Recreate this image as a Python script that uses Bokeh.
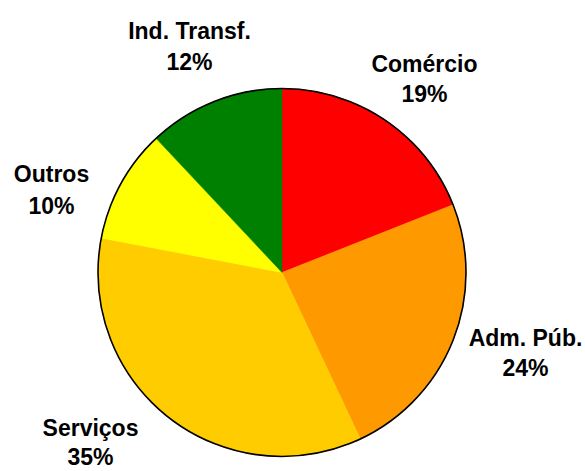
import numpy as np
from bokeh.plotting import figure
from bokeh.models import Range1d, ColumnDataSource
from bokeh.core.properties import value
from bokeh.embed import file_html
from bokeh.resources import INLINE

# Data (clockwise from 12 o'clock)
categories = ["Comércio", "Adm. Púb.", "Serviços", "Outros", "Ind. Transf."]
shares = [19, 24, 35, 10, 12]
colors = ["#FF0000", "#FF9900", "#FFCC00", "#FFFF00", "#008000"]

# Layout (page pixel coordinates; data y = 471 - screen y)
W, H = 585, 471
cx, cy_screen, radius = 281.5, 272, 184
label_x = [424, 525, 90, 51, 189]
name_baseline = [63, 337, 427, 173, 30]
pct_baseline = [93, 367, 456, 205, 61]

def ys(v):
    return H - v

p = figure(width=W, height=H, output_backend="svg", toolbar_location=None,
           x_range=Range1d(0, W), y_range=Range1d(0, H),
           min_border=0)
p.axis.visible = False
p.grid.visible = False
p.outline_line_color = None
p.background_fill_color = "white"
p.border_fill_color = "white"

vals = np.array(shares, dtype=float)
frac = vals / vals.sum()
cum = np.concatenate([[0], np.cumsum(frac)])
start = np.pi / 2 - 2 * np.pi * cum[:-1]
end = np.pi / 2 - 2 * np.pi * cum[1:]

src = ColumnDataSource(dict(start=start, end=end, color=colors,
                            x=[cx] * len(shares), y=[ys(cy_screen)] * len(shares)))
p.wedge(x="x", y="y", radius=radius, radius_units="screen",
        start_angle="end", end_angle="start", direction="anticlock",
        fill_color="color", line_color="color", line_width=0.5, source=src)
p.scatter(x=[cx], y=[ys(cy_screen)], size=2 * radius, fill_color=None,
          line_color="black", line_width=1.6)

lab = ColumnDataSource(dict(
    x=label_x,
    yn=[ys(v) for v in name_baseline],
    yp=[ys(v) for v in pct_baseline],
    name=categories,
    pct=[f"{s}%" for s in shares],
))
for ycol, tcol in (("yn", "name"), ("yp", "pct")):
    p.text(x="x", y=ycol, text=tcol, source=lab, text_align="center",
           text_baseline="alphabetic", text_font=value("Liberation Sans"),
           text_font_style="bold", text_font_size="23px", text_color="black")

open("out.html", "w").write(file_html(p, INLINE))
